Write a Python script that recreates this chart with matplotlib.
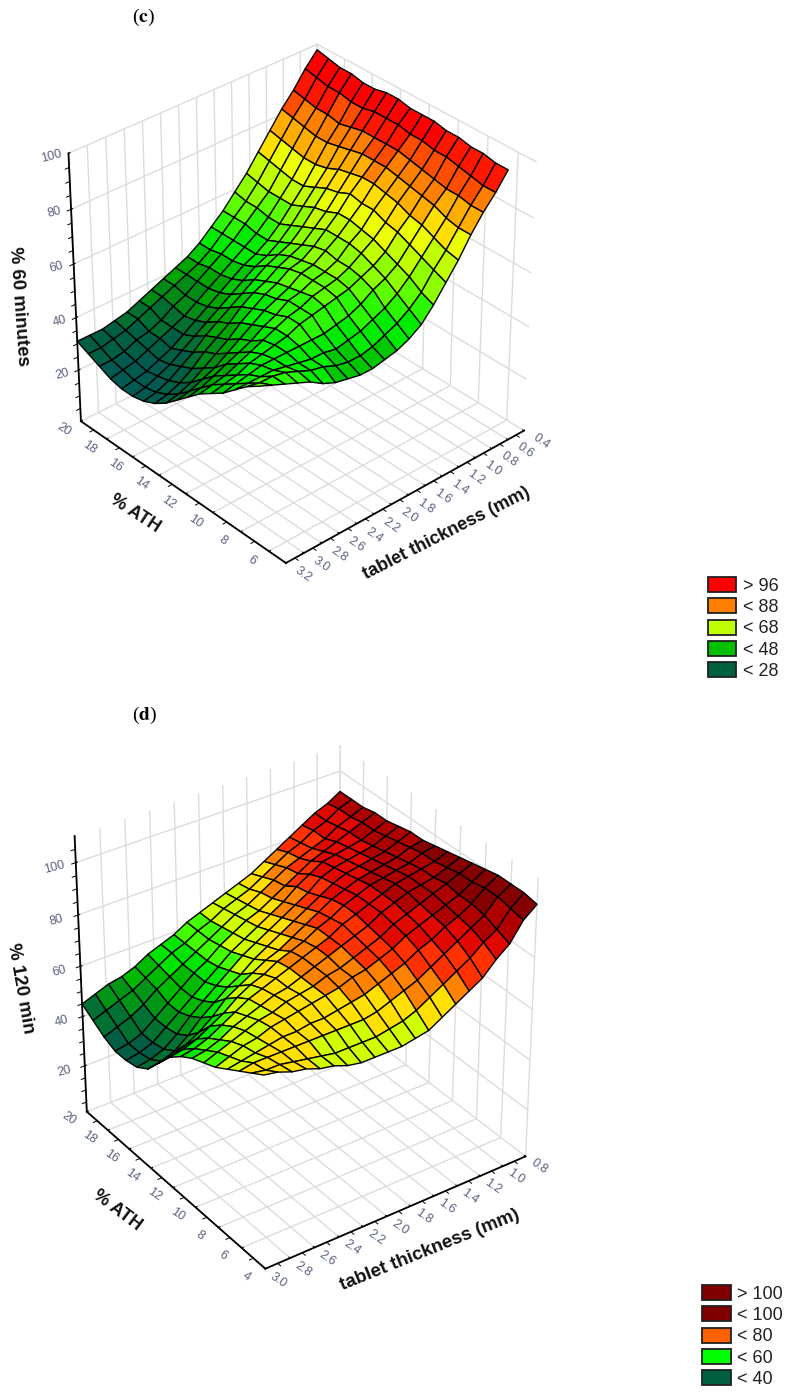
#!/usr/bin/env python3

import numpy as np
import matplotlib
matplotlib.use("Agg")
import matplotlib.pyplot as plt
from matplotlib.colors import LinearSegmentedColormap, BoundaryNorm
from matplotlib.patches import Patch
from mpl_toolkits.mplot3d import proj3d

plt.rcParams['font.family'] = ['Liberation Sans', 'DejaVu Sans']
plt.rcParams['mathtext.fontset'] = 'stix'

# panel (c)
thick_c = [0.40, 0.54, 0.68, 0.82, 0.96, 1.10, 1.24, 1.38, 1.52, 1.66, 1.80,
           1.94, 2.08, 2.22, 2.36, 2.50, 2.64, 2.78, 2.92, 3.06, 3.20]
ath_c = [20, 19.16, 18.33, 17.49, 16.65, 15.81, 14.98, 14.14, 13.3, 12.46,
         11.63, 10.79, 9.95, 9.11, 8.28, 7.44, 6.6]
pct_c = [
    [98, 93, 87, 82, 76, 70, 64, 59, 54, 50, 46, 43, 41, 39, 37, 35, 33, 32, 31, 31, 31],
    [97, 92, 86, 81, 75, 69, 63, 58, 54, 50, 46, 43, 41, 39, 37, 35, 33, 31, 30, 29, 29],
    [96, 91, 85, 80, 74, 68, 62, 58, 54, 50, 47, 44, 41, 38, 36, 33, 31, 30, 28, 27, 27],
    [96, 91, 85, 79, 73, 67, 62, 57, 53, 50, 47, 44, 41, 38, 35, 33, 31, 29, 27, 26, 25],
    [95, 90, 84, 79, 73, 67, 62, 57, 53, 50, 48, 45, 42, 39, 36, 33, 30, 28, 26, 25, 24],
    [95, 90, 85, 80, 74, 69, 64, 59, 55, 52, 50, 47, 44, 41, 38, 35, 32, 29, 27, 25, 24],
    [96, 91, 86, 81, 76, 71, 66, 61, 57, 55, 53, 50, 47, 44, 41, 38, 34, 31, 28, 26, 25],
    [96, 91, 86, 82, 77, 72, 67, 63, 59, 57, 55, 52, 50, 47, 43, 40, 37, 33, 30, 28, 27],
    [95, 91, 86, 82, 78, 74, 69, 65, 61, 58, 57, 54, 52, 49, 46, 42, 39, 36, 33, 31, 30],
    [95, 90, 86, 82, 78, 73, 69, 65, 62, 59, 58, 55, 53, 51, 48, 45, 42, 39, 37, 35, 34],
    [95, 90, 85, 81, 77, 73, 68, 65, 61, 59, 58, 56, 55, 52, 50, 47, 45, 43, 41, 39, 38],
    [94, 89, 84, 80, 76, 71, 67, 64, 61, 59, 58, 57, 55, 54, 52, 50, 48, 46, 44, 43, 42],
    [94, 89, 83, 79, 74, 70, 65, 62, 60, 58, 57, 56, 55, 54, 52, 51, 50, 49, 47, 46, 45],
    [93, 88, 82, 78, 73, 68, 63, 60, 58, 55, 53, 52, 51, 51, 51, 51, 51, 51, 50, 49, 48],
    [93, 87, 82, 76, 71, 66, 61, 57, 54, 52, 50, 49, 48, 49, 49, 50, 51, 52, 52, 52, 52],
    [92, 86, 81, 75, 69, 64, 58, 54, 51, 49, 47, 46, 46, 47, 49, 50, 52, 54, 55, 55, 56],
    [92, 86, 81, 75, 68, 62, 56, 51, 48, 46, 45, 44, 44, 45, 46, 48, 51, 53, 55, 57, 59],
]
legend_c = ['> 96', '< 88', '< 68', '< 48', '< 28']
legend_colors_c = ['#ff0000', '#ff8000', '#bfff00', '#00c000', '#006040']
xticks_c = [0.4, 0.6, 0.8, 1.0, 1.2, 1.4, 1.6, 1.8, 2.0, 2.2, 2.4, 2.6, 2.8, 3.0, 3.2]
yticks_c = [6, 8, 10, 12, 14, 16, 18, 20]
zticks_c = [20, 40, 60, 80, 100]

# panel (d)
thick_d = [0.80, 0.91, 1.02, 1.13, 1.24, 1.35, 1.46, 1.57, 1.68, 1.79, 1.90,
           2.01, 2.12, 2.23, 2.34, 2.45, 2.56, 2.67, 2.78, 2.89, 3.00]
ath_d = [20, 19, 18, 17, 16, 15, 14, 13, 12, 11, 10, 9, 8, 7, 6, 5, 4]
pct_d = [
    [92, 89, 87, 84, 81, 78, 75, 72, 70, 68, 66, 64, 62, 59, 57, 55, 52, 50, 49, 47, 45],
    [92, 90, 87, 85, 82, 80, 77, 74, 71, 69, 67, 64, 62, 59, 57, 54, 51, 48, 46, 44, 42],
    [92, 90, 88, 85, 83, 81, 79, 76, 73, 70, 68, 65, 62, 59, 56, 53, 50, 46, 43, 41, 39],
    [93, 91, 89, 87, 85, 83, 80, 77, 74, 71, 69, 66, 63, 59, 56, 52, 48, 44, 40, 38, 37],
    [93, 91, 89, 88, 87, 86, 83, 80, 76, 73, 70, 67, 64, 60, 56, 52, 48, 44, 40, 38, 37],
    [94, 92, 90, 89, 88, 87, 85, 81, 78, 75, 72, 69, 66, 62, 58, 54, 50, 45, 41, 39, 38],
    [95, 93, 91, 90, 89, 88, 86, 83, 80, 77, 74, 71, 68, 64, 61, 57, 53, 48, 44, 42, 41],
    [95, 94, 92, 91, 90, 89, 87, 85, 82, 79, 76, 73, 71, 68, 65, 62, 57, 53, 50, 48, 47],
    [96, 95, 93, 92, 91, 90, 88, 86, 83, 81, 78, 76, 74, 71, 69, 66, 62, 59, 56, 54, 53],
    [97, 95, 94, 93, 92, 90, 88, 86, 84, 81, 79, 77, 75, 73, 71, 69, 66, 63, 60, 58, 57],
    [98, 96, 94, 93, 92, 90, 88, 85, 83, 81, 79, 77, 75, 73, 72, 70, 68, 66, 63, 61, 60],
    [99, 97, 95, 93, 91, 89, 87, 84, 82, 80, 78, 77, 75, 74, 73, 71, 70, 68, 66, 64, 62],
    [100, 97, 94, 92, 90, 88, 86, 83, 81, 79, 78, 76, 75, 74, 73, 72, 71, 69, 68, 66, 64],
    [101, 98, 94, 91, 89, 86, 84, 81, 79, 77, 75, 74, 73, 72, 72, 71, 71, 70, 69, 68, 67],
    [101, 98, 93, 90, 87, 84, 81, 78, 76, 74, 72, 71, 71, 71, 71, 71, 71, 71, 71, 71, 70],
    [101, 97, 91, 88, 84, 81, 78, 75, 72, 70, 69, 68, 68, 68, 68, 69, 70, 71, 72, 72, 73],
    [100, 96, 89, 85, 80, 77, 74, 71, 68, 67, 66, 66, 66, 66, 67, 69, 70, 72, 73, 75, 76],
]
legend_d = ['> 100', '< 100', '< 80', '< 60', '< 40']
legend_colors_d = ['#800000', '#800000', '#ff6000', '#00ff00', '#006040']
xticks_d = [0.8, 1.0, 1.2, 1.4, 1.6, 1.8, 2.0, 2.2, 2.4, 2.6, 2.8, 3.0]
yticks_d = [4, 6, 8, 10, 12, 14, 16, 18, 20]
zticks_d = [20, 40, 60, 80, 100]

W, H = 792, 1396
GRID = '#dcdcdc'
TICK = '#5a6080'


def make_cmap(anchors, lo, hi):
    pts = [((v - lo) / (hi - lo), c) for v, c in anchors]
    return LinearSegmentedColormap.from_list('bands', pts, N=256)


def cell_colors(z, cmap, norm):
    z = np.array(z, dtype=float)
    cell = (z[:-1, :-1] + z[1:, :-1] + z[:-1, 1:] + z[1:, 1:]) / 4
    cols = cmap(norm(cell))
    return np.pad(cols, ((0, 1), (0, 1), (0, 0)), mode='edge')


def text3(ax, x, y, z, s, **kw):
    # Text3D ignores rotation, so project the anchor and use a 2D text
    px, py, _ = proj3d.proj_transform(x, y, z, ax.get_proj())
    ax.text2D(px, py, s, transform=ax.transData, ha='center', va='center', **kw)


def panel(rect, thick, ath, z, xlim, ylim, zlim, xticks, yticks, zticks, elev, azim, box,
          cmap, norm, pads, xlabel, ylabel, zlabel):
    ax = fig.add_axes([rect[0] / W, rect[1] / H, rect[2] / W, rect[2] / H],
                      projection='3d', computed_zorder=False)
    ax.patch.set_alpha(0)
    ax.set_proj_type('persp', focal_length=1.1)
    ax.view_init(elev=elev, azim=azim)
    ax.set_box_aspect(box)
    ax.set_xlim(xlim[0], xlim[1], view_margin=0)
    ax.set_ylim(ylim[0], ylim[1], view_margin=0)
    ax.set_zlim(zlim[0], zlim[1], view_margin=0)

    X, Y = np.meshgrid(thick, ath)
    ax.plot_surface(X, Y, np.array(z, dtype=float), rstride=1, cstride=1, shade=False, zorder=5,
                    facecolors=cell_colors(z, cmap, norm),
                    edgecolor='black', linewidth=1.0)

    ax.set_xticks(xticks)
    ax.set_yticks(yticks)
    ax.set_zticks(zticks)
    ax.set_xticklabels([])
    ax.set_yticklabels([])
    ax.set_zticklabels([])

    for axis in (ax.xaxis, ax.yaxis, ax.zaxis):
        axis.set_pane_color((1, 1, 1, 0))
        axis.pane.set_edgecolor(GRID)
        axis._axinfo['grid']['color'] = GRID
        axis._axinfo['grid']['linewidth'] = 1.0
        axis._axinfo['tick']['color'] = 'black'
        axis._axinfo['tick']['inward_factor'] = 0.0
        axis._axinfo['tick']['outward_factor'] = 0.07
        axis.line.set_color('black')
        axis.line.set_linewidth(1.3)

    # tick labels sit just outside the axes, along the floor directions
    xlow, ylow, yhigh = xlim[0], ylim[0], ylim[1]
    for t in xticks:
        text3(ax, t, ylow - pads[0], zlim[0], '%.1f' % t, rotation=-35, fontsize=9, color=TICK)
    for t in yticks:
        text3(ax, xlow + pads[1], t, zlim[0], '%d' % t, rotation=-35, fontsize=9, color=TICK)
    for t in zticks:
        text3(ax, xlow + pads[2], yhigh, t + pads[3], '%d' % t, rotation=15, fontsize=9, color=TICK)

    for lab in (xlabel, ylabel, zlabel):
        text3(ax, lab[0], lab[1], lab[2], lab[3], rotation=lab[4], fontsize=lab[5],
              fontweight='bold', color='#111111')

    # small ticks between the labelled ones
    ex = 0.03 * abs(xlim[1] - xlim[0])
    ey = 0.03 * abs(ylim[1] - ylim[0])
    for t in np.arange(min(xticks) + 0.1, max(xticks), 0.2):
        ax.plot([t, t], [ylow, ylow - ey / 2], [zlim[0], zlim[0]], color='black', lw=0.7, zorder=3)
    for t in np.arange(min(yticks) + 1, max(yticks), 2):
        ax.plot([xlow, xlow + ex / 2], [t, t], [zlim[0], zlim[0]], color='black', lw=0.7, zorder=3)
    for t in np.arange(5, zlim[1], 5):
        ax.plot([xlow, xlow + ex / 2], [yhigh, yhigh], [t, t], color='black', lw=0.7, zorder=3)
    return ax


fig = plt.figure(figsize=(W / 100, H / 100), dpi=100)

cmap_c = make_cmap([(24, '#005a50'), (30, '#006040'), (40, '#00a000'), (50, '#00f000'),
                    (58, '#60ff00'), (66, '#bfff00'), (72, '#ffff00'), (80, '#ffa000'),
                    (86, '#ff6000'), (90, '#ff2000'), (94, '#ff0000'), (100, '#ff0000')], 24, 100)
norm_c = BoundaryNorm(np.arange(24, 101, 4), cmap_c.N)
panel((24.2, 822.7, 541), thick_c, ath_c, pct_c, (3.2, 0.4), (4.8, 20), (0, 100),
      xticks_c, yticks_c, zticks_c, 33.4, -132, (316, 306, 310), cmap_c, norm_c, (1.2, 0.19, 0.18, 1.5),
      (1.93, 1.4, 0, 'tablet thickness (mm)', 27, 13),
      (3.7, 12.4, 0, '% ATH', -33, 13),
      (3.8, 20, 54, '% 60 minutes', -86, 13.5))

cmap_d = make_cmap([(30, '#005a50'), (38, '#006040'), (50, '#00b000'), (60, '#00ff00'),
                    (66, '#bfff00'), (71, '#ffff00'), (76, '#ffa000'), (80, '#ff6000'),
                    (86, '#ff1000'), (92, '#c00000'), (100, '#800000'), (105, '#800000')], 30, 105)
norm_d = BoundaryNorm(np.arange(30, 106, 5), cmap_d.N)
panel((22.6, 115.6, 548), thick_d, ath_d, pct_d, (3.0, 0.8), (4, 20), (1, 110),
      xticks_d, yticks_d, zticks_d, 33, -125.3, (312, 315, 320), cmap_d, norm_d, (1.07, 0.15, 0.17, 1),
      (1.99, 0.6, 1, 'tablet thickness (mm)', 22, 13.5),
      (3.45, 12, 1, '% ATH', -37, 13),
      (3.48, 20, 60, '% 120 min', -80, 13.5))

fig.text(143 / W, 1 - 17 / H, r'($\mathbf{c}$)', fontsize=14, ha='center', va='center',
         family='Liberation Serif')
fig.text(145 / W, 1 - 715 / H, r'($\mathbf{d}$)', fontsize=14, ha='center', va='center',
         family='Liberation Serif')

for labels, colors, x0, y0 in ((legend_c, legend_colors_c, 707.5, 577),
                               (legend_d, legend_colors_d, 702, 1285)):
    handles = [Patch(facecolor=c, edgecolor='#202020', linewidth=1.3, label=t)
               for t, c in zip(labels, colors)]
    fig.legend(handles=handles, loc='upper left', bbox_to_anchor=(x0 / W, 1 - y0 / H),
               frameon=False, fontsize=13, borderpad=0, borderaxespad=0,
               handlelength=1.6, handleheight=0.9, handletextpad=0.35, labelspacing=0.2,
               labelcolor='#222222')

plt.savefig('out.png', dpi=100)
